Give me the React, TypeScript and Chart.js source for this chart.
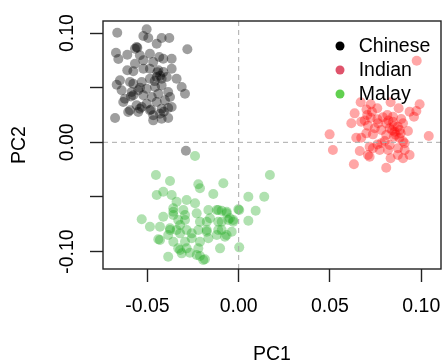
import { useEffect, useRef } from 'react';
import { Chart, registerables } from 'chart.js';

Chart.register(...registerables);

const groups = ['Chinese', 'Indian', 'Malay'];
const pointColors = ['rgba(0,0,0,0.38)', 'rgba(255,0,0,0.35)', 'rgba(30,170,30,0.35)'];
const legendColors = ['#000000', '#DF536B', '#61D04F'];

const chineseX = [
  -0.0665, -0.0504, -0.0522, -0.0495, -0.0422, -0.038, -0.0449, -0.0281, -0.0672, -0.061,
  -0.0559, -0.0568, -0.0541, -0.0486, -0.0435, -0.0568, -0.0522, -0.0468, -0.0413, -0.0367,
  -0.061, -0.0577, -0.0522, -0.0486, -0.044, -0.0413, -0.0367, -0.065, -0.0668, -0.0595,
  -0.0577, -0.0531, -0.0486, -0.0449, -0.0422, -0.0394, -0.034, -0.0641, -0.0586, -0.055,
  -0.0504, -0.0458, -0.0422, -0.0386, -0.0312, -0.0294, -0.0623, -0.0577, -0.0522, -0.0476,
  -0.044, -0.0376, -0.0632, -0.0559, -0.0504, -0.0449, -0.0404, -0.0595, -0.0541, -0.0486,
  -0.0422, -0.0386, -0.0367, -0.0677, -0.0605, -0.055, -0.0468, -0.0431, -0.0468, -0.0422,
  -0.0386, -0.0531, -0.0289, -0.0555, -0.0445, -0.043, -0.046, -0.054, -0.059, -0.041,
  -0.048, -0.0659,
];
const chineseY = [
  0.1003, 0.1034, 0.0973, 0.0954, 0.0954, 0.0954, 0.0902, 0.0851, 0.082, 0.0801,
  0.0872, 0.0856, 0.0796, 0.0811, 0.078, 0.0719, 0.075, 0.0735, 0.0765, 0.0765,
  0.0659, 0.065, 0.0673, 0.0673, 0.0659, 0.0643, 0.0673, 0.0567, 0.0527, 0.0552,
  0.0536, 0.0552, 0.0582, 0.0597, 0.0582, 0.0597, 0.0582, 0.0476, 0.046, 0.0476,
  0.049, 0.0506, 0.0521, 0.046, 0.0506, 0.0445, 0.0399, 0.043, 0.043, 0.0414,
  0.0445, 0.0414, 0.0369, 0.0339, 0.0353, 0.0369, 0.0384, 0.0293, 0.0307, 0.0293,
  0.0307, 0.0314, 0.0323, 0.0222, 0.0277, 0.0277, 0.0247, 0.0262, 0.0201, 0.0216,
  0.0222, 0.0323, -0.0077, 0.0865, 0.064, 0.061, 0.056, 0.05, 0.042, 0.028,
  0.03, 0.0762,
];

const indianX = [
  0.0668, 0.0723, 0.0759, 0.0832, 0.0876, 0.0991, 0.0973, 0.0936, 0.096, 0.0635,
  0.0704, 0.0723, 0.0814, 0.0845, 0.089, 0.0617, 0.0671, 0.0708, 0.0763, 0.0808,
  0.0845, 0.0872, 0.09, 0.0927, 0.0498, 0.0644, 0.0671, 0.0745, 0.0781, 0.0827,
  0.0854, 0.0882, 0.0735, 0.0808, 0.085, 0.0887, 0.1041, 0.0516, 0.0663, 0.0717,
  0.0735, 0.0781, 0.08, 0.0827, 0.0872, 0.0909, 0.0909, 0.0772, 0.0818, 0.0708,
  0.0717, 0.0872, 0.0936, 0.0631, 0.0832, 0.0808, 0.09, 0.0699, 0.0975, 0.084,
  0.086, 0.085, 0.082, 0.079, 0.076, 0.07, 0.073, 0.088, 0.09, 0.076,
  0.069,
];
const indianY = [
  0.0366, 0.0348, 0.0311, 0.0366, 0.0311, 0.0348, 0.0286, 0.028, 0.0234, 0.0265,
  0.025, 0.0225, 0.025, 0.0234, 0.0213, 0.0174, 0.0188, 0.0152, 0.0174, 0.0174,
  0.0188, 0.0143, 0.0174, 0.0103, 0.0073, 0.0042, 0.0042, 0.0128, 0.0113, 0.0128,
  0.0097, 0.0113, 0.0073, 0.0067, 0.0051, 0.0082, 0.0058, -0.007, -0.008, -0.004,
  -0.0055, -0.0009, 0.0012, -0.0025, -0.0055, -0.0009, -0.007, -0.007, -0.007, -0.0116,
  -0.0132, -0.0116, -0.0116, -0.0201, -0.0146, -0.0232, -0.0146, 0.0082, 0.0747, 0.011,
  0.007, 0.015, 0.02, 0.023, 0.021, 0.03, 0.028, 0.004, 0.001, -0.002,
  0.02,
];

const malayX = [
  -0.0239, -0.0453, -0.0376, -0.0221, -0.0212, -0.0084, -0.0449, -0.0413, -0.0367, -0.0139,
  0.0053, 0.014, 0.0171, -0.034, -0.0285, -0.0239, -0.0358, -0.0303, -0.0166, -0.0112,
  -0.0066, -0.0002, 0.0093, -0.0531, -0.0486, -0.0413, -0.0358, -0.0294, -0.0212, -0.0157,
  -0.0048, 0.0053, -0.0431, -0.0376, -0.0321, -0.0285, -0.0175, -0.0112, -0.003, -0.0386,
  -0.0321, -0.0257, -0.0212, -0.0166, -0.0066, -0.0431, -0.0358, -0.0331, -0.0285, -0.0221,
  -0.0102, 0.0003, -0.0386, -0.0312, -0.0267, -0.0194, -0.0212, -0.0093, -0.012, -0.0376,
  -0.0358, -0.0331, -0.0294, -0.023, -0.0257, -0.0221, -0.034, -0.0294, -0.0321, -0.0185,
  -0.023, -0.012, -0.0093, -0.0066, -0.003, -0.0175, -0.0112, -0.0057, -0.0175, -0.0093,
  -0.0075, -0.0038, 0.0003, -0.044,
];
const malayY = [
  -0.0125, -0.0299, -0.0354, -0.0384, -0.0421, -0.0375, -0.0482, -0.0452, -0.0482, -0.0473,
  -0.0498, -0.0498, -0.0299, -0.0543, -0.0528, -0.0558, -0.0604, -0.0619, -0.0619, -0.0619,
  -0.0635, -0.0613, -0.0626, -0.0704, -0.0772, -0.0681, -0.0665, -0.0711, -0.0726, -0.0695,
  -0.0695, -0.0717, -0.0772, -0.0787, -0.0757, -0.0802, -0.0802, -0.0802, -0.0726, -0.0848,
  -0.0833, -0.0878, -0.0909, -0.0878, -0.0848, -0.0894, -0.0909, -0.097, -0.097, -0.097,
  -0.097, -0.0961, -0.1047, -0.1016, -0.101, -0.1077, -0.104, -0.0726, -0.0848, -0.0802,
  -0.0635, -0.0711, -0.0665, -0.065, -0.0833, -0.0802, -0.0802, -0.0909, -0.0985, -0.107,
  -0.1031, -0.0619, -0.0626, -0.065, -0.0711, -0.0726, -0.0726, -0.0711, -0.0818, -0.0802,
  -0.0864, -0.0818, -0.0619, -0.0887,
];

const xTicks = [-0.05, 0, 0.05, 0.1];
const xTickLabels = ['-0.05', '0.00', '0.05', '0.10'];
const yTicks = [-0.1, -0.05, 0, 0.05, 0.1];
const yTickLabels = ['-0.10', '', '0.00', '', '0.10'];
const xRange = [-0.0743, 0.1108];
const yRange = [-0.1159, 0.111];
const xTitle = 'PC1';
const yTitle = 'PC2';

const FONT = '"Liberation Sans", Arial, Helvetica, sans-serif';

const seriesX = [chineseX, indianX, malayX];
const seriesY = [chineseY, indianY, malayY];

const overlayPlugin = {
  id: 'overlay',
  afterDatasetsDraw(chart: any) {
    const { ctx, chartArea: a, scales } = chart;
    const x0 = scales.x.getPixelForValue(0);
    const y0 = scales.y.getPixelForValue(0);
    ctx.save();
    ctx.strokeStyle = '#aaaaaa';
    ctx.lineWidth = 1;
    ctx.setLineDash([5, 4]);
    ctx.beginPath();
    ctx.moveTo(x0, a.top);
    ctx.lineTo(x0, a.bottom);
    ctx.moveTo(a.left, y0);
    ctx.lineTo(a.right, y0);
    ctx.stroke();
    ctx.setLineDash([]);
    ctx.strokeStyle = '#222222';
    ctx.lineWidth = 1.4;
    ctx.strokeRect(a.left, a.top, a.right - a.left, a.bottom - a.top);
    const lx = a.right - 101;
    const ly = a.top + 25;
    ctx.font = `19.5px ${FONT}`;
    ctx.textBaseline = 'middle';
    ctx.textAlign = 'left';
    chart.data.datasets.forEach((ds: any, i: number) => {
      const yy = ly + i * 24;
      ctx.fillStyle = legendColors[i];
      ctx.beginPath();
      ctx.arc(lx, yy, 4.5, 0, Math.PI * 2);
      ctx.fill();
      ctx.fillStyle = '#000000';
      ctx.fillText(ds.label, lx + 18.7, yy + 0.5);
    });
    ctx.restore();
  },
};

export default function App() {
  const ref = useRef<HTMLCanvasElement | null>(null);

  useEffect(() => {
    document.body.style.margin = '0';
    if (!ref.current) return;
    const datasets = groups.map((g, i) => ({
      label: g,
      data: seriesX[i].map((x, j) => ({ x, y: seriesY[i][j] })),
      backgroundColor: pointColors[i],
      borderWidth: 0,
      pointRadius: 5,
      pointHoverRadius: 5,
    }));
    const tickFont = { size: 19.5, family: FONT };
    const chart = new Chart(ref.current, {
      type: 'scatter',
      data: { datasets },
      options: {
        animation: false,
        responsive: false,
        devicePixelRatio: 1,
        events: [],
        layout: { autoPadding: false, padding: { top: 21, right: 1, left: 0, bottom: 0 } },
        plugins: { legend: { display: false }, tooltip: { enabled: false } },
        scales: {
          x: {
            type: 'linear',
            min: xRange[0],
            max: xRange[1],
            afterBuildTicks: (s: any) => {
              s.ticks = xTicks.map((v) => ({ value: v }));
            },
            afterFit: (s: any) => {
              s.height = 94;
              s.paddingLeft = 0;
              s.paddingRight = 0;
            },
            border: { display: false },
            grid: {
              drawOnChartArea: false,
              drawTicks: true,
              tickLength: 13,
              tickColor: '#222222',
              tickWidth: 1.4,
            },
            ticks: {
              autoSkip: false,
              maxRotation: 0,
              minRotation: 0,
              padding: 13,
              color: '#000000',
              font: tickFont,
              callback: (_v: any, i: number) => xTickLabels[i],
            },
            title: {
              display: true,
              text: xTitle,
              color: '#000000',
              font: { size: 19.5, family: FONT, lineHeight: 1 },
              padding: { top: 0, bottom: -1 },
            },
          },
          y: {
            type: 'linear',
            min: yRange[0],
            max: yRange[1],
            afterBuildTicks: (s: any) => {
              s.ticks = yTicks.map((v) => ({ value: v }));
            },
            afterFit: (s: any) => {
              s.width = 103;
              s.paddingTop = 0;
              s.paddingBottom = 0;
            },
            border: { display: false },
            grid: {
              drawOnChartArea: false,
              drawTicks: true,
              tickLength: 13,
              tickColor: '#222222',
              tickWidth: 1.4,
            },
            ticks: {
              autoSkip: false,
              minRotation: 90,
              maxRotation: 90,
              crossAlign: 'center',
              padding: 0,
              color: '#000000',
              font: tickFont,
              callback: (_v: any, i: number) => yTickLabels[i],
            },
            title: {
              display: true,
              text: yTitle,
              color: '#000000',
              font: { size: 19.5, family: FONT, lineHeight: 1 },
              padding: { top: 9.5, bottom: 0 },
            },
          },
        },
      },
      plugins: [overlayPlugin],
    } as any);
    return () => chart.destroy();
  }, []);

  return (
    <canvas
      ref={ref}
      width={442}
      height={363}
      style={{ display: 'block', width: 442, height: 363 }}
    />
  );
}
